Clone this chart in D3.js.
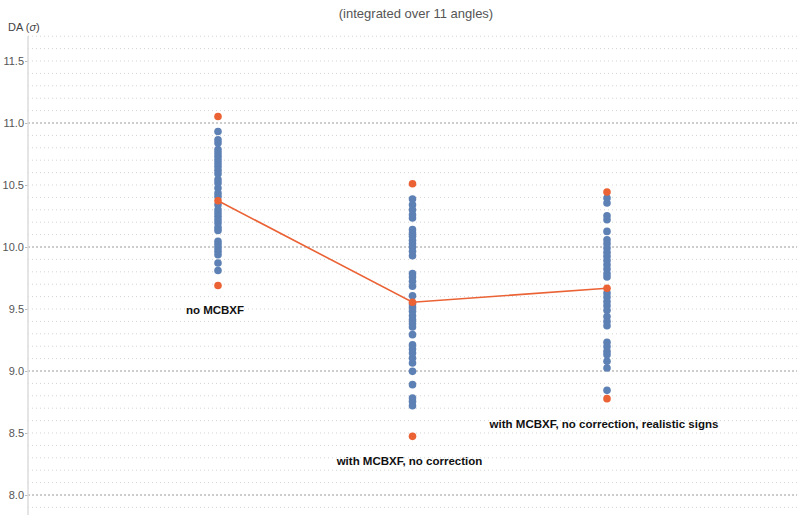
<!DOCTYPE html>
<html>
<head>
<meta charset="utf-8">
<script src="https://cdn.jsdelivr.net/npm/d3@7"></script>
<style>
  body { margin: 0; background: #fff; }
  text { font-family: "Liberation Sans", Arial, sans-serif; }
</style>
</head>
<body>
<div id="chart"></div>
<script>
const W = 797, H = 515

// categories and labels
const categories = ["no MCBXF", "with MCBXF, no correction", "with MCBXF, no correction, realistic signs"]

// DA per seed (sigma)
const seedsNoMCBXF = [10.932, 10.865, 10.839, 10.785, 10.758, 10.731, 10.704, 10.677, 10.650, 10.618,
  10.591, 10.543, 10.516, 10.476, 10.435, 10.408, 10.341, 10.301, 10.274, 10.247, 10.220, 10.194,
  10.158, 10.134, 10.045, 10.019, 9.992, 9.965, 9.938, 9.871, 9.811]
const seedsNoCorr = [10.387, 10.341, 10.301, 10.260, 10.234, 10.140, 10.113, 10.086, 10.054, 10.027,
  10.0, 9.965, 9.930, 9.785, 9.758, 9.723, 9.683, 9.607, 9.540, 9.516, 9.481, 9.446, 9.414, 9.381,
  9.355, 9.293, 9.212, 9.177, 9.145, 9.105, 9.065, 8.997, 8.890, 8.782, 8.755, 8.720]
const seedsRealistic = [10.395, 10.355, 10.252, 10.220, 10.126, 10.059, 10.027, 9.992, 9.957, 9.925,
  9.892, 9.857, 9.823, 9.785, 9.758, 9.629, 9.597, 9.561, 9.527, 9.489, 9.440, 9.400, 9.365, 9.231,
  9.198, 9.158, 9.131, 9.078, 9.024, 8.844]

// min / mean / max per category
const minDA = [9.690, 8.473, 8.777]
const meanDA = [10.373, 9.555, 9.667]
const maxDA = [11.053, 10.51, 10.444]

const majorTicks = [8.0, 8.5, 9.0, 9.5, 10.0, 10.5, 11.0, 11.5]
const gridMinor = d3.range(79, 118).map(d => d / 10)
const gridMajor = [8, 9, 10, 11]

const blue = "#5E81B5", orange = "#EB6235"

const svg = d3.select("#chart").append("svg")
  .attr("width", W)
  .attr("height", H)

const y = d3.scaleLinear().domain([8, 11]).range([495, 123])
const x = d3.scaleLinear().domain([0, 2]).range([218, 607])
const x0 = 28

// minor grid
svg.append("g").selectAll("line").data(gridMinor.filter(d => gridMajor.indexOf(d) < 0)).join("line")
  .attr("x1", x0).attr("x2", W)
  .attr("y1", d => y(d)).attr("y2", d => y(d))
  .attr("stroke", "#d4d4d4").attr("stroke-width", 1)
  .attr("stroke-dasharray", "1,3")

// major grid
svg.append("g").selectAll("line").data(gridMajor).join("line")
  .attr("x1", x0).attr("x2", W)
  .attr("y1", d => y(d)).attr("y2", d => y(d))
  .attr("stroke", "#9a9a9a").attr("stroke-width", 1)
  .attr("stroke-dasharray", "2,2")

// y axis
const yAxis = svg.append("g")
  .attr("transform", "translate(" + x0 + ",0)")
  .call(d3.axisLeft(y).tickValues(majorTicks).tickFormat(d3.format(".1f")).tickSize(3))
yAxis.select(".domain").remove()
yAxis.selectAll(".tick line").attr("stroke", "#bbb")
yAxis.selectAll(".tick text")
  .attr("fill", "#555").style("font-size", "11px")
  .style("font-family", "Liberation Sans, Arial, sans-serif")
  .attr("x", -4)
svg.append("line")
  .attr("x1", x0).attr("x2", x0)
  .attr("y1", y(11.7)).attr("y2", H)
  .attr("stroke", "#dcdcdc").attr("stroke-width", 1.5)

// axis label
const lab = svg.append("text")
  .attr("x", 8).attr("y", 31)
  .attr("fill", "#444").style("font-size", "11px")
lab.append("tspan").text("DA (")
lab.append("tspan").style("font-style", "italic").text("σ")
lab.append("tspan").text(")")

// title
svg.append("text")
  .attr("x", 416).attr("y", 18)
  .attr("text-anchor", "middle")
  .attr("fill", "#555").style("font-size", "13px")
  .text("(integrated over 11 angles)")

// seed points
const allSeeds = [seedsNoMCBXF, seedsNoCorr, seedsRealistic]
allSeeds.forEach((arr, i) => {
  svg.append("g").selectAll("circle").data(arr).join("circle")
    .attr("cx", x(i)).attr("cy", d => y(d)).attr("r", 3.8)
    .attr("fill", blue)
})

// mean line
svg.append("path")
  .datum(meanDA)
  .attr("fill", "none").attr("stroke", orange).attr("stroke-width", 1.6)
  .attr("d", d3.line().x((d, i) => x(i)).y(d => y(d)))

// min / mean / max
const stats = []
categories.forEach((c, i) => { stats.push([i, minDA[i]], [i, meanDA[i]], [i, maxDA[i]]) })
svg.append("g").selectAll("circle").data(stats).join("circle")
  .attr("cx", d => x(d[0])).attr("cy", d => y(d[1])).attr("r", 3.8)
  .attr("fill", orange)

// category labels under minima
svg.append("g").selectAll("text").data(categories).join("text")
  .attr("x", (d, i) => x(i) - 3)
  .attr("y", (d, i) => y(minDA[i]) + 29)
  .attr("text-anchor", "middle")
  .attr("fill", "#111")
  .style("font-size", "11.5px").style("font-weight", "bold")
  .text(d => d)
</script>
</body>
</html>
